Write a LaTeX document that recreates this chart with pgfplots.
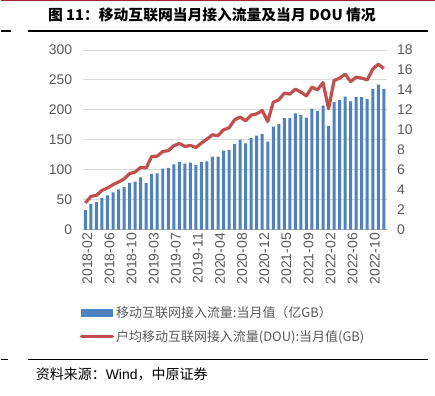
\documentclass[border=0pt]{standalone}
\usepackage{fontspec}
\setmainfont{Liberation Sans}
\newfontfamily\cjk{Noto Sans CJK SC}
\usepackage{pgfplots}
\usepackage{pgfplotstable}
\pgfplotsset{compat=1.18}
\definecolor{barblue}{HTML}{4F81BD}
\definecolor{linered}{HTML}{C0504D}
\definecolor{tickgray}{HTML}{595959}
\definecolor{gridgray}{HTML}{D9D9D9}
\definecolor{topred}{HTML}{A02B2B}

\pgfplotstableread{
i bar dou
0 33 2.67
1 43 3.33
2 46 3.43
3 53 3.93
4 57 4.17
5 62 4.50
6 67 4.77
7 71 5.07
8 78 5.60
9 80 5.77
10 87 6.23
11 78 6.17
12 93 7.33
13 94 7.35
14 102 7.83
15 103 7.90
16 109 8.40
17 113 8.63
18 110 8.33
19 112 8.43
20 108 8.23
21 113 8.67
22 114 9.07
23 122 9.50
24 122 9.40
25 132 10.00
26 133 10.20
27 143 11.00
28 150 11.27
29 144 10.90
30 153 11.47
31 157 11.60
32 160 11.93
33 147 10.83
34 172 12.77
35 176 13.00
36 186 13.67
37 186 13.57
38 194 14.07
39 191 13.77
40 187 13.40
41 202 14.27
42 198 14.00
43 207 14.73
44 173 12.10
45 213 14.93
46 216 15.17
47 222 15.57
48 214 14.83
49 221 15.27
50 221 15.17
51 218 15.00
52 235 16.07
53 242 16.57
54 235 16.13
}\datatable

\begin{document}
\begin{tikzpicture}
\path (0pt,0pt) rectangle (435pt,396pt);
\fill[topred] (0pt,394.6pt) rectangle (435pt,396pt);
\node[anchor=center, inner sep=0pt] at (211.5pt,381pt) {\cjk\bfseries\fontsize{14.8}{16}\selectfont 图 11：移动互联网当月接入流量及当月 DOU 情况};
\draw[line width=1.5pt] (27pt,365pt) -- (428pt,365pt);
\draw[line width=1.5pt] (0pt,365pt) -- (10pt,365pt);
\draw[line width=1.5pt] (27pt,36pt) -- (428pt,36pt);
\draw[line width=1.5pt] (0pt,36pt) -- (7pt,36pt);
\node[anchor=west, inner sep=0pt] at (35pt,21pt) {\fontsize{14}{16}\selectfont{\cjk 资料来源：}Wind{\cjk ，中原证券}};

\begin{axis}[at={(82pt,166pt)}, anchor=south west, scale only axis,
  width=304.5pt, height=180pt,
  xmin=-0.5, xmax=54.5, ymin=0, ymax=300, ytick={0,50,...,300},
  xtick={0,4,...,52},
  xticklabels={2018-02,2018-06,2018-10,2019-03,2019-07,2019-11,2020-04,2020-08,2020-12,2021-05,2021-09,2022-02,2022-06,2022-10},
  /pgf/number format/assume math mode=true,
  axis lines*=left,
  y axis line style={draw=none},
  x axis line style={draw=gridgray!80!black, line width=0.75pt},
  tick style={draw=none},
  ymajorgrids, grid style={draw=gridgray, line width=0.75pt},
  x tick label style={rotate=90, anchor=east, font=\fontsize{14}{14}\selectfont, text=tickgray, yshift=-2pt},
  y tick label style={font=\fontsize{14}{14}\selectfont, text=tickgray, xshift=-7pt},
  clip=false,
]
\addplot[ybar, bar width=3pt, fill=barblue, draw=none] table[x=i,y=bar]{\datatable};
\end{axis}

\begin{axis}[at={(82pt,166pt)}, anchor=south west, scale only axis,
  width=304.5pt, height=180pt,
  xmin=-0.5, xmax=54.5, ymin=0, ymax=18, ytick={0,2,...,18},
  /pgf/number format/assume math mode=true,
  axis y line*=right, axis x line=none,
  y axis line style={draw=none},
  tick style={draw=none},
  y tick label style={font=\fontsize{14}{14}\selectfont, text=tickgray, xshift=7pt},
  legend style={at={(axis description cs:-0.02,-0.405)}, anchor=north west, draw=none, fill=none,
    font=\cjk\fontsize{13}{14}\selectfont, text=tickgray, row sep=7pt},
  legend cell align=left,
  clip=false,
]
\addlegendimage{legend image code/.code={\fill[barblue] (0pt,-3.5pt) rectangle (31pt,3.5pt);}}
\addlegendentry{移动互联网接入流量:当月值（亿GB）}
\addplot[linered, line width=3.2pt, line join=round,
  legend image code/.code={\draw[linered, line width=3.5pt, line cap=round] (0pt,0pt) -- (31pt,0pt);}]
  table[x=i,y=dou]{\datatable};
\addlegendentry{户均移动互联网接入流量(DOU):当月值(GB)}
\end{axis}
\end{tikzpicture}
\end{document}
